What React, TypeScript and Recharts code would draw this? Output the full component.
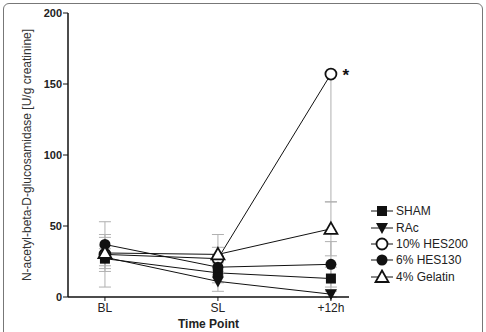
import React from "react";
import { LineChart, Line, XAxis, YAxis, ErrorBar } from "recharts";

const timePoints = ["BL", "SL", "+12h"];

const sham = [27, 17, 13];
const shamSd = [9, 7, 8];
const rac = [28, 11, 2];
const racSd = [6, 7, 2];
const hes200 = [30, 27, 157];
const hes200Sd: [number, number][] = [[23, 23], [8, 8], [90, 0]];
const hes130 = [37, 21, 23];
const hes130Sd = [7, 6, 16];
const gelatin = [31, 30, 48];
const gelatinSd = [11, 14, 19];

type Shape = "square" | "triDown" | "circleOpen" | "circle" | "triUp";

const series: { key: string; name: string; shape: Shape; values: number[]; sd: (number | [number, number])[] }[] = [
  { key: "sham", name: "SHAM", shape: "square", values: sham, sd: shamSd },
  { key: "rac", name: "RAc", shape: "triDown", values: rac, sd: racSd },
  { key: "hes200", name: "10% HES200", shape: "circleOpen", values: hes200, sd: hes200Sd },
  { key: "hes130", name: "6% HES130", shape: "circle", values: hes130, sd: hes130Sd },
  { key: "gelatin", name: "4% Gelatin", shape: "triUp", values: gelatin, sd: gelatinSd },
];

const rows = timePoints.map((_, i) => {
  const row: Record<string, number | [number, number]> = { t: i };
  series.forEach((s) => {
    row[s.key] = s.values[i];
    row[s.key + "Sd"] = s.sd[i];
  });
  return row;
});

const FONT = "'Liberation Sans', Arial, sans-serif";

function marker(shape: Shape, cx: number, cy: number, key?: string | number) {
  switch (shape) {
    case "square":
      return <rect key={key} x={cx - 5} y={cy - 5} width={10} height={10} fill="#111" />;
    case "triDown":
      return <path key={key} d={`M${cx - 6},${cy - 5} L${cx + 6},${cy - 5} L${cx},${cy + 6} Z`} fill="#111" />;
    case "circleOpen":
      return <circle key={key} cx={cx} cy={cy} r={5.5} fill="#fff" stroke="#111" strokeWidth={1.8} />;
    case "circle":
      return <circle key={key} cx={cx} cy={cy} r={5.5} fill="#111" />;
    case "triUp":
      return (
        <path
          key={key}
          d={`M${cx},${cy - 6.5} L${cx + 6.5},${cy + 5} L${cx - 6.5},${cy + 5} Z`}
          fill="#fff"
          stroke="#111"
          strokeWidth={1.8}
          strokeLinejoin="miter"
        />
      );
  }
}

function Asterisk(props: any) {
  if (props.index !== 2) return null;
  return (
    <text x={props.x + 15} y={props.y + 7} fontSize={17} fontWeight="bold" fontFamily={FONT} fill="#111" textAnchor="middle">
      *
    </text>
  );
}

export default function App() {
  return (
    <div style={{ position: "fixed", left: 0, top: 0, width: 486, height: 332, overflow: "hidden", background: "#fff" }}>
      <div
        style={{
          position: "absolute",
          left: 3,
          top: 3,
          width: 478,
          height: 340,
          border: "1px solid #777",
          borderRadius: 6,
        }}
      />
      <LineChart width={486} height={332} data={rows} margin={{ top: 13, right: 137, bottom: 0, left: 8 }}>
        <XAxis
          type="number"
          dataKey="t"
          domain={[-0.327, 2.16]}
          ticks={[0, 1, 2]}
          allowDataOverflow
          tickFormatter={(v: number) => timePoints[v]}
          height={35}
          tickSize={4}
          tickMargin={2}
          axisLine={{ stroke: "#111", strokeWidth: 1.5 }}
          tickLine={{ stroke: "#111" }}
          tick={{ fill: "#222", fontSize: 12, fontFamily: FONT }}
          label={{ value: "Time Point", position: "insideBottom", offset: 4, fill: "#222", fontSize: 12, fontWeight: "bold", fontFamily: FONT }}
        />
        <YAxis
          domain={[0, 200]}
          ticks={[0, 50, 100, 150, 200]}
          width={60}
          tickSize={5}
          tickMargin={1}
          axisLine={{ stroke: "#111", strokeWidth: 1.5 }}
          tickLine={{ stroke: "#111" }}
          tick={{ fill: "#222", fontSize: 11, fontWeight: "bold", fontFamily: FONT }}
          label={{
            value: "N-acetyl-beta-D-glucosamidase [U/g creatinine]",
            angle: -90,
            position: "center",
            dx: -11,
            fill: "#333",
            fontSize: 12,
            fontFamily: FONT,
          }}
        />
        {series.map((s) => (
          <Line
            key={s.key}
            dataKey={s.key}
            stroke="#111"
            strokeWidth={1}
            isAnimationActive={false}
            dot={(p: any) => marker(s.shape, p.cx, p.cy, p.index)}
            activeDot={false}
            label={s.key === "hes200" ? Asterisk : undefined}
          >
            <ErrorBar dataKey={s.key + "Sd"} direction="y" width={6} stroke="#b0b0b0" strokeWidth={1} />
          </Line>
        ))}
      </LineChart>
      <div style={{ position: "absolute", left: 370, top: 203, fontFamily: FONT, fontSize: 12, color: "#222" }}>
        {series.map((s) => (
          <div key={s.key} style={{ display: "flex", alignItems: "center", height: 16.4 }}>
            <svg width={24} height={16} style={{ display: "block" }}>
              <line x1={1} y1={8} x2={23} y2={8} stroke="#111" strokeWidth={1} />
              {marker(s.shape, 12, 8)}
            </svg>
            <span style={{ marginLeft: 2 }}>{s.name}</span>
          </div>
        ))}
      </div>
    </div>
  );
}
